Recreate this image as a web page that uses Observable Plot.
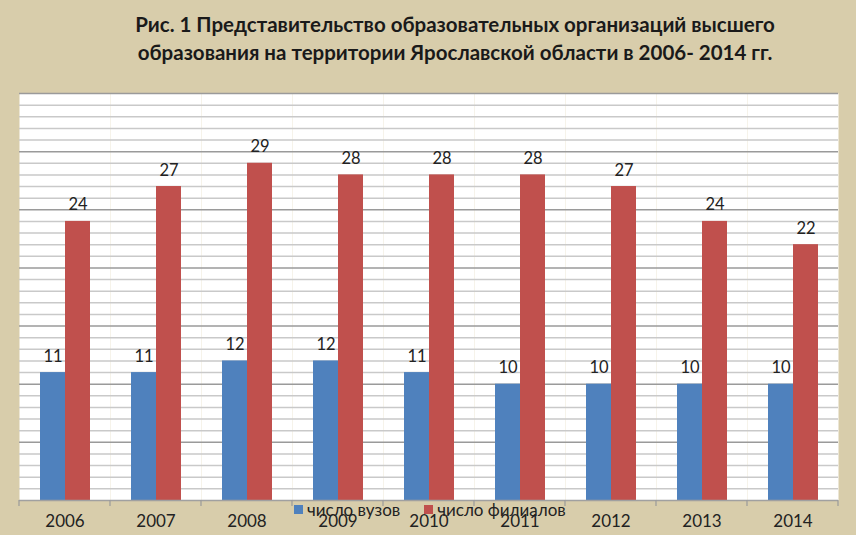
<!DOCTYPE html>
<html>
<head>
<meta charset="utf-8">
<script src="https://cdn.jsdelivr.net/npm/d3@7"></script>
<script src="https://cdn.jsdelivr.net/npm/@observablehq/plot@0.6"></script>
<style>
  html, body { margin: 0; padding: 0; background: #d8cdab; }
  #wrap { position: relative; width: 856px; height: 535px; background: #d8cdab; font-family: Lato, "Open Sans", sans-serif; overflow: hidden; }
  #title { height: 70px; box-sizing: border-box; padding-top: 10px; padding-left: 54px; text-align: center; font-weight: bold; font-size: 20.5px; line-height: 28px; color: #1a1a1a; }
  #chart svg { display: block; }
  #legend { position: absolute; left: 294px; top: 499px; display: flex; align-items: center; font-size: 17px; color: #222; }
  .item { display: flex; align-items: center; margin-right: 24px; }
  .sw { width: 9px; height: 9px; margin-right: 4px; }
</style>
</head>
<body>
<div id="wrap">
  <div id="title">Рис. 1 Представительство образовательных организаций высшего<br>образования на территории Ярославской области в 2006- 2014 гг.</div>
  <div id="chart"></div>
  <div id="legend"></div>
</div>
<script>
const years = [2006, 2007, 2008, 2009, 2010, 2011, 2012, 2013, 2014];
const vuzy = [11, 11, 12, 12, 11, 10, 10, 10, 10];
const filialy = [24, 27, 29, 28, 28, 28, 27, 24, 22];
const series = ["число вузов", "число филиалов"];
const colors = ["#4f81bd", "#c0504d"];
const gridValues = d3.range(1, 36);

const data = years.flatMap((y, i) => [
  {year: y, series: series[0], value: vuzy[i]},
  {year: y, series: series[1], value: filialy[i]}
]);

const plot = Plot.plot({
  width: 856,
  height: 465,
  marginTop: 23,
  marginBottom: 35,
  marginLeft: 18,
  marginRight: 18,
  style: {background: "transparent", fontFamily: "Lato, 'Open Sans', sans-serif", fontSize: "17px", color: "#222"},
  facet: {data, x: "year"},
  fx: {domain: years, padding: 0, label: null, tickSize: 0, tickPadding: 14, tickFormat: d => String(d)},
  x: {domain: series, axis: null, paddingInner: 0, paddingOuter: 0.785},
  y: {domain: [0, 35], axis: null},
  color: {domain: series, range: colors},
  marks: [
    Plot.frame({fill: "white", stroke: null}),
    Plot.ruleY(gridValues.filter(v => v % 5 !== 0), {stroke: "#c9c9c9", strokeWidth: 1.5}),
    Plot.ruleY(gridValues.filter(v => v % 5 === 0), {stroke: "#9a9a9a", strokeWidth: 1.5}),
    Plot.barY(data, {x: "series", y: "value", fill: "series"}),
    Plot.ruleY([0], {stroke: "#a0a0a0", strokeWidth: 1.5}),
    Plot.text(data, {x: "series", y: "value", text: d => String(d.value), dy: -11, lineAnchor: "bottom", fontSize: 16.5, fill: "#222"})
  ]
});

document.getElementById("chart").appendChild(plot);

// boundary tick marks below the axis, from the library's fx and y scales
const fx = plot.scale("fx");
const ys = plot.scale("y");
const base = ys.apply(0);
const edges = years.map(y => fx.apply(y)).concat([fx.apply(years[years.length - 1]) + fx.bandwidth]);
d3.select(plot).append("g")
  .selectAll("line").data(edges).join("line")
  .attr("x1", d => d).attr("x2", d => d)
  .attr("y1", base).attr("y2", base + 6)
  .attr("stroke", "#9a9a9a").attr("stroke-width", 1.2);

// legend
const color = plot.scale("color");
const leg = d3.select("#legend");
color.domain.forEach((s, i) => {
  const it = leg.append("div").attr("class", "item");
  it.append("div").attr("class", "sw").style("background", color.range[i]);
  it.append("span").text(s);
});
</script>
</body>
</html>
